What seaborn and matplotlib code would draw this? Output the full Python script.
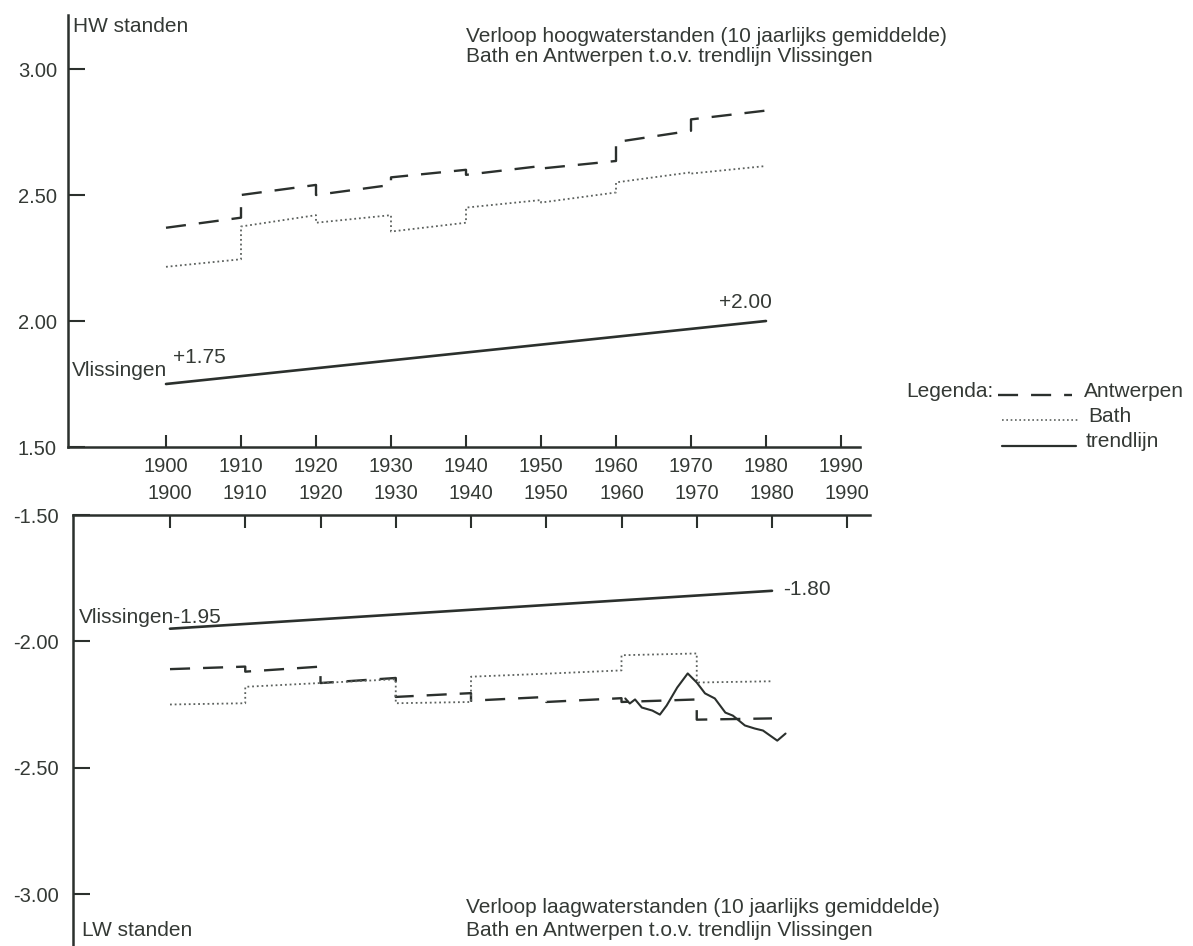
import matplotlib
matplotlib.use("Agg")
import matplotlib.pyplot as plt
import pandas as pd
import seaborn as sns

sns.set_theme(style="white")
plt.rcParams["font.family"] = ["Liberation Sans", "DejaVu Sans"]

INK = "#2b302d"
TEXT = "#343935"
DOT = "#5c615e"

# ---- data -------------------------------------------------------------
decades = [1900, 1910, 1920, 1930, 1940, 1950, 1960, 1970]

# high water (m), 10-year means: level at start and at end of each decade
hw_antwerpen_start = [2.37, 2.50, 2.50, 2.57, 2.58, 2.605, 2.71, 2.80]
hw_antwerpen_end = [2.41, 2.54, 2.54, 2.60, 2.615, 2.635, 2.755, 2.835]
hw_bath_start = [2.215, 2.375, 2.39, 2.355, 2.45, 2.47, 2.55, 2.585]
hw_bath_end = [2.245, 2.42, 2.42, 2.39, 2.48, 2.51, 2.59, 2.615]
hw_trend_years = [1900, 1980]
hw_trend_values = [1.75, 2.00]

# low water (m), 10-year means
lw_antwerpen_start = [-2.11, -2.12, -2.165, -2.22, -2.235, -2.24, -2.24, -2.31]
lw_antwerpen_end = [-2.10, -2.10, -2.145, -2.205, -2.22, -2.225, -2.23, -2.305]
lw_bath_start = [-2.25, -2.18, -2.165, -2.245, -2.14, -2.128, -2.055, -2.163]
lw_bath_end = [-2.245, -2.165, -2.15, -2.24, -2.128, -2.115, -2.048, -2.158]
lw_trend_years = [1900, 1980]
lw_trend_values = [-1.95, -1.80]

# yearly low water Antwerpen
lw_yearly_years = [1960.5, 1961.1, 1961.8, 1962.7, 1964.1, 1965.1, 1966.0,
                   1967.4, 1968.8, 1970.0, 1971.1, 1972.4, 1973.8, 1974.8,
                   1976.4, 1977.7, 1978.8, 1980.7, 1981.8]
lw_yearly_values = [-2.226, -2.246, -2.230, -2.262, -2.274, -2.290, -2.254,
                    -2.183, -2.127, -2.163, -2.206, -2.226, -2.282, -2.294,
                    -2.333, -2.345, -2.353, -2.393, -2.365]

year_ticks = [1900, 1910, 1920, 1930, 1940, 1950, 1960, 1970, 1980, 1990]
hw_ticks = [1.50, 2.00, 2.50, 3.00]
lw_ticks = [-1.50, -2.00, -2.50, -3.00]


def decade_steps(starts, ends):
    xs, ys = [], []
    for d, s, e in zip(decades, starts, ends):
        xs += [d, d + 10]
        ys += [s, e]
    return pd.DataFrame({"jaar": xs, "stand": ys})


# ---- figure layout (pixel boxes) -------------------------------------
W, H = 1193, 946
fig = plt.figure(figsize=(W / 100, H / 100), dpi=100)
fig.patch.set_facecolor("white")


def box(l, t, r, b):
    return [l / W, 1 - b / H, (r - l) / W, (b - t) / H]


ax_hw = fig.add_axes(box(68, 15, 860, 447))
ax_lw = fig.add_axes(box(73, 515, 870, 946))

DASHED = (0, (8.5, 5.5))
DOTTED = (0, (1, 1.6))


def draw_series(ax, a_start, a_end, b_start, b_end, t_years, t_values):
    sns.lineplot(data=decade_steps(a_start, a_end), x="jaar", y="stand", ax=ax,
                 sort=False, estimator=None, color=INK, linewidth=1.7,
                 linestyle=DASHED)
    sns.lineplot(data=decade_steps(b_start, b_end), x="jaar", y="stand", ax=ax,
                 sort=False, estimator=None, color=DOT, linewidth=1.3,
                 linestyle=DOTTED)
    sns.lineplot(x=t_years, y=t_values, ax=ax, sort=False, estimator=None,
                 color=INK, linewidth=1.9)


draw_series(ax_hw, hw_antwerpen_start, hw_antwerpen_end, hw_bath_start,
            hw_bath_end, hw_trend_years, hw_trend_values)
draw_series(ax_lw, lw_antwerpen_start, lw_antwerpen_end, lw_bath_start,
            lw_bath_end, lw_trend_years, lw_trend_values)
sns.lineplot(x=lw_yearly_years, y=lw_yearly_values, ax=ax_lw, sort=False,
             estimator=None, color=INK, linewidth=1.5)

# ---- axes styling ------------------------------------------------------
ax_hw.set_xlim(1900 - 98 / 7.5, 1900 + 694 / 7.5)
ax_hw.set_ylim(1.50, 3.00 + 54 / 252)
ax_lw.set_xlim(1900 - 97 / 7.525, 1900 + 700 / 7.525)
ax_lw.set_ylim(-3.00 - 52 / 252.7, -1.50)

for ax, yt in ((ax_hw, hw_ticks), (ax_lw, lw_ticks)):
    ax.set_facecolor("none")
    ax.set_xlabel("")
    ax.set_ylabel("")
    ax.set_xticks(year_ticks)
    ax.set_xticklabels([str(y) for y in year_ticks])
    ax.set_yticks(yt)
    ax.set_yticklabels([f"{v:.2f}" for v in yt])
    ax.spines["right"].set_visible(False)
    for s in ax.spines.values():
        s.set_color(INK)
        s.set_linewidth(1.8)
    ax.tick_params(axis="x", direction="in", length=9, width=1.5,
                   color=INK, labelcolor=TEXT, labelsize=14.5)
    ax.tick_params(axis="y", direction="in", length=12, width=1.5, left=True,
                   color=INK, labelcolor=TEXT, labelsize=14.5)

ax_hw.spines["top"].set_visible(False)
ax_hw.tick_params(axis="x", bottom=True, pad=7)
ax_hw.tick_params(axis="y", pad=8)

ax_lw.spines["bottom"].set_visible(False)
ax_lw.xaxis.tick_top()
ax_lw.tick_params(axis="x", top=True, bottom=False, pad=8.5)
ax_lw.tick_params(axis="y", pad=10)

# ---- labels at the trend lines --------------------------------------------
FS = 15
ax_hw.annotate("+1.75", xy=(hw_trend_years[0], hw_trend_values[0]),
               xytext=(5, 19), textcoords="offset points", ha="left",
               va="center", fontsize=FS, color=TEXT)
ax_hw.annotate("Vlissingen", xy=(hw_trend_years[0], hw_trend_values[0]),
               xytext=(1, 10), textcoords="offset points", ha="right",
               va="center", fontsize=FS, color=TEXT)
ax_hw.annotate("+2.00", xy=(hw_trend_years[1], hw_trend_values[1]),
               xytext=(4, 13), textcoords="offset points", ha="right",
               va="center", fontsize=FS, color=TEXT)
ax_lw.annotate("Vlissingen-1.95", xy=(lw_trend_years[0], lw_trend_values[0]),
               xytext=(37, 8), textcoords="offset points", ha="right",
               va="center", fontsize=FS, color=TEXT)
ax_lw.annotate("-1.80", xy=(lw_trend_years[1], lw_trend_values[1]),
               xytext=(8, 1), textcoords="offset points", ha="left",
               va="center", fontsize=FS, color=TEXT)

# ---- titles ------------------------------------------------------------
def ftext(x, y, s, **kw):
    fig.text(x / W, 1 - y / H, s, fontsize=FS, color=TEXT, va="center", **kw)


ftext(73, 26, "HW standen")
ftext(466, 36, "Verloop hoogwaterstanden (10 jaarlijks gemiddelde)")
ftext(466, 57, "Bath en Antwerpen t.o.v. trendlijn Vlissingen")
ftext(82, 930, "LW standen")
ftext(466, 907, "Verloop laagwaterstanden (10 jaarlijks gemiddelde)")
ftext(466, 930, "Bath en Antwerpen t.o.v. trendlijn Vlissingen")

# ---- legend --------------------------------------------------------------
ax_key = fig.add_axes([0, 0, 1, 1])
ax_key.set_xlim(0, W)
ax_key.set_ylim(H, 0)
ax_key.axis("off")
ax_key.patch.set_visible(False)
ax_key.text(906, 391, "Legenda:", fontsize=FS, color=TEXT, va="center")
ax_key.plot([998, 1072], [395, 395], color=INK, lw=1.7, linestyle=DASHED)
ax_key.text(1084, 391, "Antwerpen", fontsize=FS, color=TEXT, va="center")
ax_key.plot([1002, 1080], [420, 420], color=DOT, lw=1.2, linestyle=DOTTED)
ax_key.text(1088, 416, "Bath", fontsize=FS, color=TEXT, va="center")
ax_key.plot([1002, 1076], [446, 446], color=INK, lw=1.6)
ax_key.text(1086, 441, "trendlijn", fontsize=FS, color=TEXT, va="center")

fig.savefig("out.png", dpi=100)
